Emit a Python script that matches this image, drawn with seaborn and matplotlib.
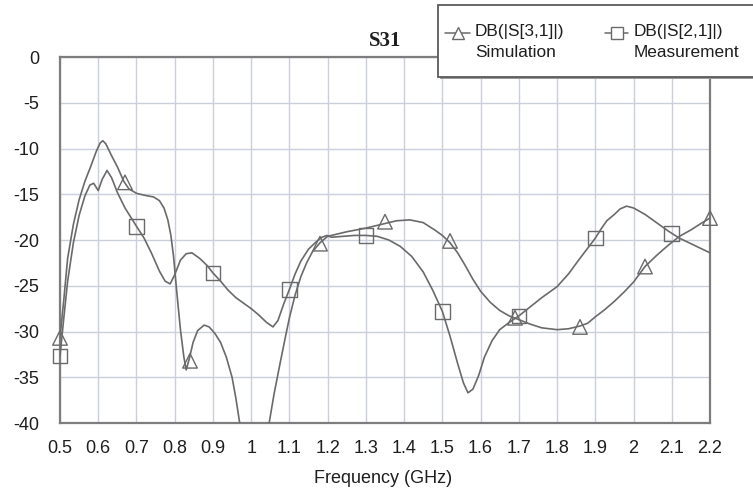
import matplotlib
matplotlib.use("Agg")
import matplotlib.pyplot as plt
import seaborn as sns
import pandas as pd
from matplotlib.patches import Rectangle
from matplotlib.lines import Line2D

# ---------------- data ----------------
sim_f = [0.50, 0.51, 0.52, 0.535, 0.55, 0.565, 0.58, 0.595, 0.605, 0.612, 0.62, 0.635,
         0.65, 0.667, 0.68, 0.70, 0.72, 0.745, 0.76, 0.772, 0.782, 0.79, 0.797, 0.805,
         0.815, 0.824, 0.83, 0.838, 0.848, 0.86, 0.877, 0.89, 0.905, 0.92, 0.935, 0.95,
         0.96, 0.97, 0.99, 1.01, 1.03, 1.047, 1.06, 1.075, 1.09, 1.10, 1.115, 1.13,
         1.145, 1.16, 1.18, 1.20, 1.25, 1.30, 1.35, 1.38, 1.415, 1.45, 1.48, 1.50,
         1.52, 1.54, 1.56, 1.58, 1.60, 1.625, 1.65, 1.675, 1.70, 1.73, 1.76, 1.80,
         1.83, 1.86, 1.88, 1.90, 1.925, 1.95, 1.975, 2.00, 2.03, 2.06, 2.09, 2.12,
         2.15, 2.18, 2.20]
sim_db = [-30.7, -26.5, -22.0, -18.3, -15.6, -13.6, -12.0, -10.3, -9.4, -9.15, -9.5, -10.8,
          -12.0, -13.6, -14.4, -14.9, -15.1, -15.3, -15.7, -16.5, -17.8, -19.5, -21.8, -25.5,
          -29.8, -32.8, -34.2, -33.0, -31.2, -29.9, -29.3, -29.5, -30.2, -31.2, -32.8, -35.0,
          -37.3, -40.0, -45.0, -47.0, -45.0, -40.0, -36.8, -33.6, -30.5, -28.5, -26.0, -24.0,
          -22.5, -21.3, -20.3, -19.6, -19.1, -18.7, -18.2, -17.9, -17.8, -18.1, -18.9, -19.5,
          -20.3, -21.4, -22.8, -24.3, -25.6, -26.8, -27.7, -28.3, -28.7, -29.2, -29.6, -29.8,
          -29.7, -29.4, -29.1, -28.4, -27.6, -26.7, -25.7, -24.6, -22.9, -21.7, -20.6, -19.6,
          -18.9, -18.1, -17.6]

meas_f = [0.50, 0.51, 0.52, 0.535, 0.55, 0.565, 0.578, 0.588, 0.60, 0.61, 0.623, 0.635,
          0.65, 0.67, 0.70, 0.72, 0.74, 0.76, 0.775, 0.788, 0.80, 0.815, 0.83, 0.845,
          0.865, 0.885, 0.90, 0.92, 0.94, 0.96, 0.98, 1.00, 1.02, 1.04, 1.057, 1.07,
          1.085, 1.10, 1.115, 1.13, 1.15, 1.17, 1.185, 1.198, 1.21, 1.24, 1.27, 1.30,
          1.33, 1.36, 1.39, 1.42, 1.45, 1.475, 1.50, 1.52, 1.54, 1.555, 1.567, 1.58,
          1.595, 1.61, 1.63, 1.65, 1.675, 1.70, 1.73, 1.76, 1.80, 1.83, 1.86, 1.88,
          1.90, 1.915, 1.93, 1.95, 1.965, 1.982, 2.00, 2.03, 2.06, 2.09, 2.12, 2.15,
          2.18, 2.20]
meas_db = [-32.7, -28.5, -24.5, -20.3, -17.3, -15.2, -14.0, -13.8, -14.6, -13.4, -12.4, -13.2,
           -14.8, -16.5, -18.5, -19.8, -21.5, -23.4, -24.5, -24.8, -23.8, -22.2, -21.5, -21.4,
           -22.0, -22.8, -23.6, -24.5, -25.5, -26.3, -26.9, -27.5, -28.2, -29.0, -29.5, -28.8,
           -27.0, -25.4, -23.7, -22.3, -21.0, -20.2, -19.7, -19.5, -19.7, -19.6, -19.5, -19.5,
           -19.6, -20.0, -20.7, -21.8, -23.5, -25.5, -27.8, -30.5, -33.5, -35.6, -36.7, -36.3,
           -34.8, -32.8, -31.0, -29.8, -29.0, -28.3, -27.3, -26.3, -25.1, -23.7, -22.0, -20.9,
           -19.8, -18.8, -17.9, -17.2, -16.6, -16.3, -16.5, -17.2, -18.1, -19.0, -19.8, -20.4,
           -21.0, -21.4]

sim_mark_f = [0.50, 0.67, 0.84, 1.18, 1.35, 1.52, 1.69, 1.86, 2.03, 2.20]
sim_mark_db = [-30.7, -13.7, -33.2, -20.4, -18.0, -20.1, -28.5, -29.5, -22.9, -17.6]
meas_mark_f = [0.50, 0.70, 0.90, 1.10, 1.30, 1.50, 1.70, 1.90, 2.10]
meas_mark_db = [-32.7, -18.5, -23.6, -25.4, -19.5, -27.8, -28.3, -19.8, -19.3]

x_ticks = [0.5, 0.6, 0.7, 0.8, 0.9, 1.0, 1.1, 1.2, 1.3, 1.4, 1.5, 1.6, 1.7, 1.8, 1.9, 2.0, 2.1, 2.2]
x_tick_labels = ["0.5", "0.6", "0.7", "0.8", "0.9", "1", "1.1", "1.2", "1.3", "1.4", "1.5",
                 "1.6", "1.7", "1.8", "1.9", "2", "2.1", "2.2"]
y_ticks = [0, -5, -10, -15, -20, -25, -30, -35, -40]
y_tick_labels = ["0", "-5", "-10", "-15", "-20", "-25", "-30", "-35", "-40"]

title = "S31"
x_label = "Frequency (GHz)"
legend_lines = [("DB(|S[3,1]|)", "Simulation"), ("DB(|S[2,1]|)", "Measurement")]

# ---------------- style ----------------
sns.set_theme(style="white")
plt.rcParams['font.family'] = ['Liberation Sans', 'DejaVu Sans']

LINE = "#6a6a6a"
GRID = "#cbcfdb"
SPINE = "#7d7d7d"
TEXT = "#1e1e1e"

W, H = 753, 491
fig = plt.figure(figsize=(W / 100, H / 100), dpi=100)
fig.patch.set_facecolor("white")


def fx(x):
    return x / W


def fy(y):
    return 1 - y / H


ax = fig.add_axes([fx(60), fy(423), 650 / W, 366 / H])

sim_df = pd.DataFrame({"f": sim_f, "db": sim_db})
meas_df = pd.DataFrame({"f": meas_f, "db": meas_db})
sim_m = pd.DataFrame({"f": sim_mark_f, "db": sim_mark_db})
meas_m = pd.DataFrame({"f": meas_mark_f, "db": meas_mark_db})

sns.lineplot(data=meas_df, x="f", y="db", ax=ax, color=LINE, lw=1.2, sort=False,
             estimator=None, zorder=3)
sns.lineplot(data=sim_df, x="f", y="db", ax=ax, color=LINE, lw=1.2, sort=False,
             estimator=None, zorder=3)
sns.scatterplot(data=sim_m, x="f", y="db", ax=ax, marker="^", s=110, facecolor="none",
                edgecolor=LINE, linewidth=1.0, zorder=4, clip_on=False)
sns.scatterplot(data=meas_m, x="f", y="db", ax=ax, marker="s", s=110, facecolor="none",
                edgecolor=LINE, linewidth=1.0, zorder=4, clip_on=False)

ax.set_xlim(0.5, 2.2)
ax.set_ylim(-40, 0)
ax.set_xticks(x_ticks)
ax.set_xticklabels(x_tick_labels)
ax.set_yticks(y_ticks)
ax.set_yticklabels(y_tick_labels)
ax.tick_params(axis="x", length=0, pad=12, labelsize=13, labelcolor=TEXT)
ax.tick_params(axis="y", length=0, pad=15, labelsize=13, labelcolor=TEXT)
ax.grid(True, color=GRID, lw=1.0, zorder=0)
ax.set_axisbelow(True)
for s in ax.spines.values():
    s.set_visible(True)
    s.set_color(SPINE)
    s.set_linewidth(1.6)

ax.set_ylabel("")
ax.set_xlabel(x_label, fontsize=13, color=TEXT)
ax.xaxis.set_label_coords((383 - 60) / 650, (423 - 470) / 366)
ax.xaxis.label.set_va("top")

ax.set_title(title, fontfamily=["Liberation Serif", "DejaVu Serif"], fontweight="bold",
             fontsize=15, color=TEXT, pad=8)

# ---------------- legend box ----------------
shadow = Rectangle((fx(440), fy(79)), (770 - 440) / W, 72 / H, transform=fig.transFigure,
                   facecolor="#9a9a9a", edgecolor="none", zorder=9)
box = Rectangle((fx(438), fy(77)), (770 - 438) / W, 72 / H, transform=fig.transFigure,
                facecolor="white", edgecolor="#5a5a5a", lw=1.3, zorder=10)
fig.patches.extend([shadow, box])

handle_specs = [(445, 470, 458, "^", 475), (605, 628, 617, "s", 634)]
for (x0, x1, xm, mk, xt), (l1, l2) in zip(handle_specs, legend_lines):
    fig.add_artist(Line2D([fx(x0), fx(x1)], [fy(33), fy(33)], transform=fig.transFigure,
                          color=LINE, lw=1.1, zorder=11))
    fig.add_artist(Line2D([fx(xm)], [fy(33)], transform=fig.transFigure, marker=mk,
                          markersize=8, markerfacecolor="white", markeredgecolor=LINE,
                          markeredgewidth=1.0, color=LINE, zorder=12))
    fig.text(fx(xt), fy(36), l1, fontsize=12.4, color=TEXT, va="baseline", ha="left",
             zorder=12)
    fig.text(fx(xt), fy(57), l2, fontsize=12.4, color=TEXT, va="baseline", ha="left",
             zorder=12)

fig.savefig("out.png", dpi=100, facecolor="white")
